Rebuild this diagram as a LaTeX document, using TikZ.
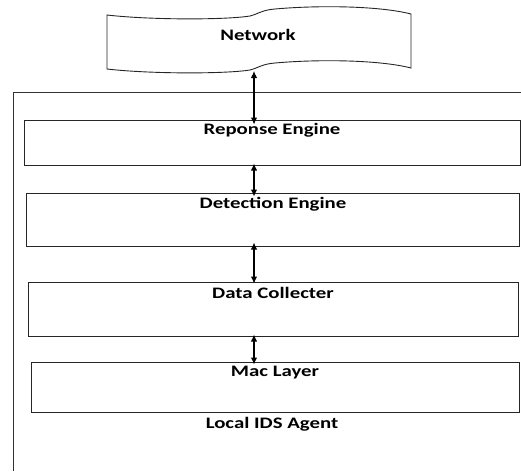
\documentclass[tikz,border=0pt]{standalone}
\usepackage{fontspec}
\newfontfamily\lblfont[FakeStretch=1.3]{Carlito}
\usetikzlibrary{arrows.meta}
\begin{document}
\begin{tikzpicture}[x=1pt,y=-1pt,
  layerbox/.style={draw=black!85,line width=1pt,rectangle,inner sep=0pt},
  lbl/.style={font=\lblfont\bfseries\fontsize{16}{18}\selectfont,text=black,inner sep=0pt},
  link/.style={line width=1.1pt,{Latex[length=7pt,width=6.5pt]}-{Latex[length=7pt,width=6.5pt]}},
  frame/.style={draw=black!80,line width=1pt}]
\useasboundingbox (0,0) rectangle (521,471);

% network banner (wavy flag)
\draw[line width=0.9pt,draw=black!85]
  (107,15) .. controls (150,20) and (225,20) .. (250,16)
           .. controls (258,14) and (262,10) .. (275,9)
           .. controls (320,5) and (380,6) .. (411,14)
  -- (411,68)
           .. controls (380,60) and (320,59) .. (275,63)
           .. controls (262,64) and (258,68) .. (250,70)
           .. controls (225,74) and (150,74) .. (107,69)
  -- cycle;
\node[lbl] (net) at (258,35) {Network};
\coordinate (netb) at (254,71);

% agent frame (top and left edges)
\draw[frame] (521,92) -- (13,92) -- (13,471);

% layers
\node[layerbox,minimum width=496pt,minimum height=45pt] (resp) at (272,142.5) {};
\node[layerbox,minimum width=493pt,minimum height=53pt] (det)  at (272.5,219.5) {};
\node[layerbox,minimum width=490pt,minimum height=54pt] (data) at (273,309) {};
\node[layerbox,minimum width=488pt,minimum height=50pt] (mac)  at (275,387) {};

\node[lbl] (respt) at (272,130) {Reponse Engine};
\node[lbl] (dett)  at (273,204) {Detection Engine};
\node[lbl] (datat) at (273,293) {Data Collecter};
\node[lbl] (mact)  at (275,373) {Mac Layer};
\node[lbl] (agent) at (272,424) {Local IDS Agent};

% connectors
\draw[link] (netb) -- ([yshift=-5pt]resp.north -| netb);
\draw[link] ([yshift=2pt]resp.south -| netb) -- ([yshift=-4pt]det.north -| netb);
\draw[link] ([yshift=4pt]det.south -| netb) -- ([yshift=-2pt]data.north -| netb);
\draw[link] ([yshift=2pt]data.south -| netb) -- ([yshift=-3pt]mac.north -| netb);
\end{tikzpicture}
\end{document}
